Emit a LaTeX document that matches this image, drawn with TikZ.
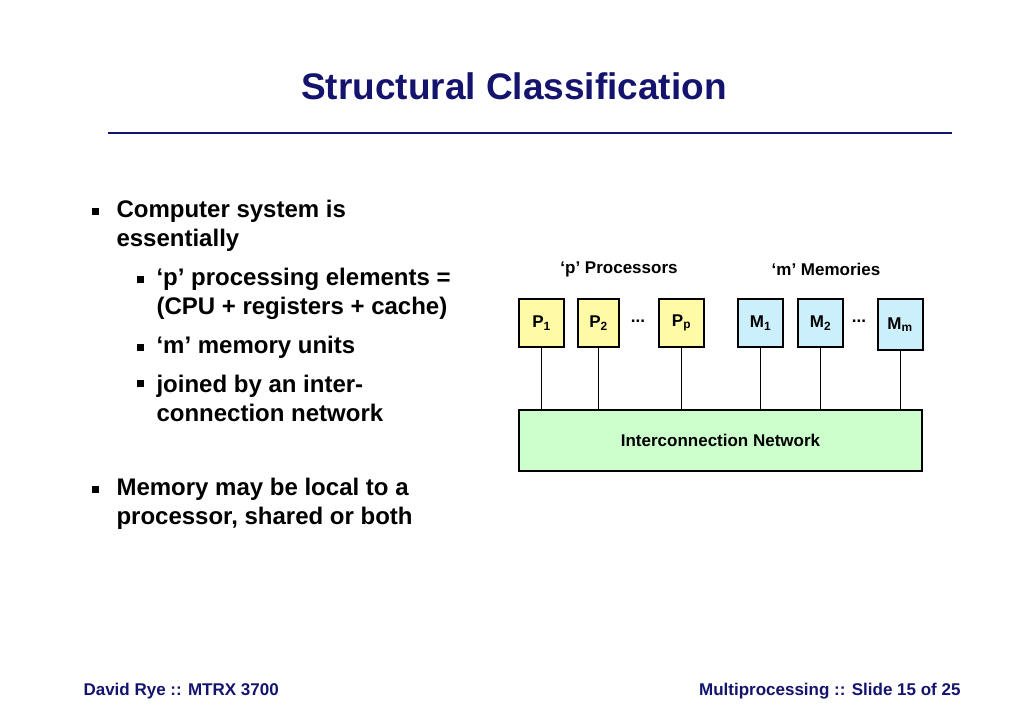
\documentclass[tikz,border=0pt]{standalone}
\usepackage{fontspec}
\setmainfont{Liberation Sans}
\begin{document}
\begin{tikzpicture}[x=1pt,y=-1pt,
  box/.style={draw,line width=2pt,minimum width=45pt,minimum height=48pt,inner sep=0pt,font=\fontsize{17}{20}\bfseries},
  pbox/.style={box,fill=yellow!35},
  mbox/.style={box,fill=cyan!20},
  txt/.style={font=\fontsize{24}{29}\bfseries,anchor=west,align=left},
  lbl/.style={font=\fontsize{17}{20}\bfseries},
  bul/.style={fill=black,minimum size=7pt,inner sep=0pt}]
\useasboundingbox[fill=white] (0,0) rectangle (1024,724);
\definecolor{navy}{RGB}{20,20,110}
\node[text=navy,font=\fontsize{37}{44}\bfseries] (title) at (514,86) {Structural Classification};
\draw[navy,line width=2.5pt] (108,133) -- (952,133);
% bullets
\node[bul] (b1) at (95,211) {};
\node[txt] (t1) at (113,226) {Computer system is\\essentially};
\node[bul] (b2) at (140,279) {};
\node[txt] (t2) at (153,294) {‘p’ processing elements =\\(CPU + registers + cache)};
\node[bul] (b3) at (140,347) {};
\node[txt] (t3) at (153,347) {‘m’ memory units};
\node[bul] (b4) at (140,383) {};
\node[txt] (t4) at (153,398) {joined by an inter-\\connection network};
\node[bul] (b5) at (95,489) {};
\node[txt] (t5) at (113,504) {Memory may be local to a\\processor, shared or both};
% diagram
\node[lbl] (lp) at (619,269) {‘p’ Processors};
\node[lbl] (lm) at (826,269) {‘m’ Memories};
\node[pbox] (p1) at (541.5,323) {P\textsubscript{1}};
\node[pbox,minimum width=41pt] (p2) at (598.5,323) {P\textsubscript{2}};
\node[lbl] (d1) at (638,321) {...};
\node[pbox] (pp) at (681.5,323) {P\textsubscript{p}};
\node[mbox] (m1) at (760.5,323) {M\textsubscript{1}};
\node[mbox] (m2) at (820.5,323) {M\textsubscript{2}};
\node[lbl] (d2) at (859,321) {...};
\node[mbox,minimum height=51pt] (mm) at (900,324.5) {M\textsubscript{m}};
\node[draw,line width=2pt,fill=green!20,minimum width=403pt,minimum height=61pt,inner sep=0pt,lbl] (net) at (720.5,440.5) {Interconnection Network};
\foreach \n in {p1,p2,pp,m1,m2,mm} \draw[line width=0.8pt] (\n.south) -- (\n.south |- net.north);
% footer
\node[text=navy,font=\fontsize{17}{20}\bfseries,anchor=west] (fl) at (80,691) {David Rye :: MTRX 3700};
\node[text=navy,font=\fontsize{17}{20}\bfseries,anchor=east] (fr) at (964,691) {Multiprocessing :: Slide 15 of 25};
\end{tikzpicture}
\end{document}
